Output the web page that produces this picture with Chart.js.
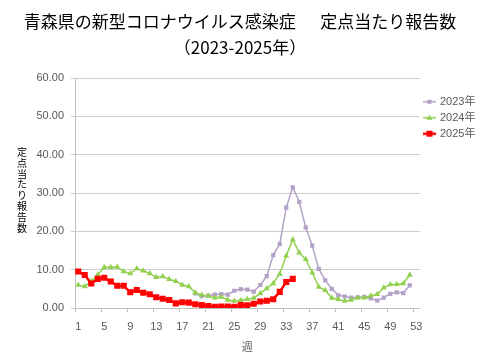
<!DOCTYPE html>
<html>
<head>
<meta charset="utf-8">
<script src="https://cdn.jsdelivr.net/npm/chart.js@4.4.1/dist/chart.umd.min.js"></script>
<style>
html, body { margin: 0; padding: 0; background: #fff; }
#wrap { width: 480px; height: 360px; }
</style>
</head>
<body>
<div id="wrap"><canvas id="aomoriChart"></canvas></div>
<script>
const weeks = ['1','2','3','4','5','6','7','8','9','10','11','12','13','14','15','16','17','18','19','20',
  '21','22','23','24','25','26','27','28','29','30','31','32','33','34','35','36','37','38','39','40',
  '41','42','43','44','45','46','47','48','49','50','51','52','53'];

// 2023: weeks 1-18 no data (5類移行前)
const cases2023 = [null, null, null, null, null, null, null, null, null, null,
  null, null, null, null, null, null, null, null, 3.8, 3.1,
  3.2, 3.5, 3.6, 3.5, 4.5, 4.9, 4.8, 4.3, 6.0, 8.3,
  13.8, 16.7, 26.2, 31.5, 27.7, 21.0, 16.3, 10.2, 7.2, 5.0,
  3.3, 3.0, 2.7, 2.8, 2.9, 2.5, 1.9, 2.7, 3.7, 4.1,
  3.9, 5.9, null];

const cases2024 = [6.0, 5.6, 7.0, 8.7, 10.6, 10.6, 10.7, 9.5, 9.0, 10.3,
  9.7, 9.0, 8.0, 8.2, 7.5, 7.0, 6.0, 5.6, 4.0, 3.4,
  3.1, 2.7, 2.9, 2.1, 1.8, 2.0, 2.3, 2.6, 3.8, 5.1,
  6.4, 8.9, 13.6, 17.9, 14.4, 12.7, 9.2, 5.5, 4.6, 2.6,
  2.3, 1.8, 2.1, 2.7, 2.7, 3.2, 3.6, 5.3, 6.1, 6.2,
  6.4, 8.6, null];

const cases2025 = [9.5, 8.6, 6.4, 7.6, 7.9, 6.9, 5.8, 5.8, 4.1, 4.7,
  4.0, 3.6, 2.8, 2.4, 2.1, 1.2, 1.5, 1.4, 1.0, 0.8,
  0.5, 0.3, 0.4, 0.4, 0.3, 0.8, 0.7, 1.1, 1.7, 1.9,
  2.3, 4.2, 6.8, 7.6];

const yearLabels = ['2023年', '2024年', '2025年'];
const titleLines = ['青森県の新型コロナウイルス感染症\u3000  定点当たり報告数', '（2023-2025年）'];
const yAxisTitle = '定点当たり報告数';
const xAxisTitle = '週';

const purple = '#B3A2C7';
const green = '#92D050';
const red = '#FF0000';
const textGray = '#595959';

// small icon: line with marker in middle, like Excel legend
function legendIcon(color, shape, size, lineWidth) {
  const c = document.createElement('canvas');
  c.width = 13; c.height = 10;
  const g = c.getContext('2d');
  g.strokeStyle = color;
  g.fillStyle = color;
  g.lineWidth = lineWidth;
  g.beginPath();
  g.moveTo(0, 5);
  g.lineTo(13, 5);
  g.stroke();
  g.beginPath();
  if (shape === 'triangle') {
    g.moveTo(6.5, 5 - size);
    g.lineTo(6.5 + size, 5 + size * 0.7);
    g.lineTo(6.5 - size, 5 + size * 0.7);
    g.closePath();
  } else {
    g.rect(6.5 - size, 5 - size, size * 2, size * 2);
  }
  g.fill();
  return c;
}

const icons = [
  legendIcon(purple, 'rect', 2, 1.5),
  legendIcon(green, 'triangle', 3, 1.5),
  legendIcon(red, 'rect', 3, 2.5)
];

// vertical (stacked) y axis title
const yTitlePlugin = {
  id: 'yTitle',
  afterDraw(chart) {
    const ctx = chart.ctx;
    const area = chart.chartArea;
    const chars = Array.from(yAxisTitle);
    const step = 10.8;
    const cy = (area.top + area.bottom) / 2 - 3;
    ctx.save();
    ctx.font = '10px "Noto Sans CJK JP"';
    ctx.fillStyle = '#000';
    ctx.textAlign = 'center';
    ctx.textBaseline = 'middle';
    chars.forEach((ch, i) => {
      ctx.fillText(ch, 22, cy + (i - (chars.length - 1) / 2) * step);
    });
    ctx.restore();
  }
};

const ctx = document.getElementById('aomoriChart').getContext('2d');
new Chart(ctx, {
  type: 'line',
  data: {
    labels: weeks,
    datasets: [
      {
        label: yearLabels[0],
        data: cases2023,
        borderColor: purple,
        backgroundColor: purple,
        borderWidth: 1.5,
        pointStyle: 'rect',
        pointRadius: 3,
        pointBorderWidth: 0,
        order: 3
      },
      {
        label: yearLabels[1],
        data: cases2024,
        borderColor: green,
        backgroundColor: green,
        borderWidth: 1.5,
        pointStyle: 'triangle',
        pointRadius: 3.5,
        pointBorderWidth: 0,
        order: 2
      },
      {
        label: yearLabels[2],
        data: cases2025,
        borderColor: red,
        backgroundColor: red,
        borderWidth: 2.5,
        pointStyle: 'rect',
        pointRadius: 4.3,
        pointBorderWidth: 0,
        order: 1
      }
    ]
  },
  options: {
    responsive: true,
    maintainAspectRatio: false,
    animation: false,
    events: [],
    layout: {
      padding: { left: 0, right: 0, top: 0, bottom: 7 }
    },
    plugins: {
      title: {
        display: true,
        text: titleLines,
        color: '#000',
        font: { family: '"Noto Sans CJK JP"', size: 17, weight: 'normal', lineHeight: 1.5 },
        padding: { top: 9, bottom: 18 }
      },
      legend: {
        position: 'right',
        align: 'start',
        fullSize: false,
        maxWidth: 60.5,
        title: {
          display: true,
          text: ' ',
          padding: 0,
          font: { size: 11 }
        },
        labels: {
          usePointStyle: true,
          pointStyleWidth: 10,
          padding: 5,
          color: textGray,
          font: { family: '"Liberation Sans", "Noto Sans CJK JP"', size: 11 },
          generateLabels: (chart) => yearLabels.map((txt, i) => ({
            text: txt,
            pointStyle: icons[i],
            fontColor: textGray,
            datasetIndex: i,
            hidden: false,
            lineWidth: 0
          }))
        }
      },
      tooltip: { enabled: false }
    },
    scales: {
      x: {
        offset: true,
        afterFit: (s) => { s.height = 45; },
        grid: {
          offset: true,
          drawOnChartArea: false,
          drawTicks: true,
          tickLength: 4,
          color: (c) => (c.index % 4 === 0 ? '#BFBFBF' : 'rgba(0,0,0,0)')
        },
        border: { color: '#BFBFBF' },
        ticks: {
          autoSkip: false,
          maxRotation: 0,
          padding: 8,
          color: textGray,
          font: { family: '"Liberation Sans"', size: 11 },
          callback: function (value, index) {
            return index % 4 === 0 ? this.getLabelForValue(value) : '';
          }
        },
        title: {
          display: true,
          text: xAxisTitle,
          color: textGray,
          font: { family: '"Noto Sans CJK JP"', size: 11 },
          padding: { top: 7, bottom: 0 }
        }
      },
      y: {
        min: 0,
        max: 60,
        afterFit: (s) => { s.width = 75; },
        ticks: {
          stepSize: 10,
          padding: 7,
          color: textGray,
          font: { family: '"Liberation Sans"', size: 11 },
          callback: (v) => v.toFixed(2)
        },
        grid: {
          color: '#CCCCCC',
          tickLength: 4
        },
        border: { color: '#BFBFBF' }
      }
    }
  },
  plugins: [yTitlePlugin]
});
</script>
</body>
</html>
